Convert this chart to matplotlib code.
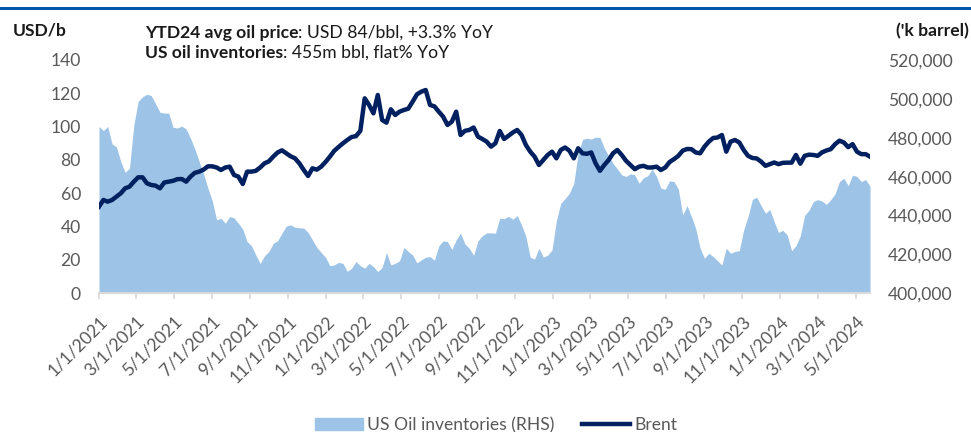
import matplotlib.pyplot as plt
import numpy as np
import pandas as pd
from matplotlib.patches import Patch, Rectangle
from matplotlib.lines import Line2D
from matplotlib.ticker import FuncFormatter

plt.rcParams["font.family"] = ["Lato", "DejaVu Sans"]
plt.rcParams["font.size"] = 12.6

# weekly readings, starting 1/1/2021
start = "2021-01-01"
brent = [52, 56, 55, 56, 58, 60, 63, 64, 67, 69.6,
         69.6, 66, 65, 64.6, 63, 66.5, 67, 67.5, 68.5, 68.6,
         67, 70, 72.3, 73, 74.2, 76.2, 76.2, 75.5, 74, 75.5,
         76, 71, 70, 65.6, 73, 73, 73.5, 75.5, 78, 79.2,
         82, 84.5, 85.8, 84, 82.2, 81, 78, 74, 70.4, 75,
         74.2, 76, 78.8, 82, 85.5, 87.8, 90, 92, 93.8, 94.3,
         97.5, 117, 113, 108, 119, 104, 102.4, 110.4, 107, 109,
         110, 110.8, 115, 119.4, 121, 122, 113, 112.2, 109, 106,
         101, 103, 109, 95, 97.5, 98, 99.5, 94, 92.6, 91,
         88, 90, 97.4, 92.6, 94.5, 96.5, 98, 95, 89, 85,
         82, 77, 80, 83, 85, 81, 86, 87.5, 85.5, 81,
         87, 84, 83.7, 84.5, 78, 73.5, 77, 80, 84, 86,
         83, 79.5, 77, 74.5, 76, 76.5, 75.5, 75.5, 76, 74,
         75.5, 78.8, 80.5, 82.5, 85.6, 86.6, 86.5, 84.5, 84, 88,
         91, 93.2, 93.5, 95, 85, 91, 92, 90.5, 86, 82.5,
         81.2, 80.9, 79, 76.5, 77.5, 78.5, 77.5, 78.3, 78.4, 78.4,
         83, 77.8, 82.5, 83.2, 83, 82.5, 84.6, 85.7, 86.5, 89.5,
         91.6, 90.5, 87.7, 89.5, 85, 83.5, 83.5, 82]

# US oil inventories, million barrels
inventories = [485.8, 483.7, 485.8, 476.8, 475.3, 467.8, 462.2, 464.4, 486.7, 498.7,
               501.1, 502.4, 501.7, 497.4, 493.1, 492.7, 492.7, 485.4, 485.0, 486.0,
               484.5, 479.8, 474.2, 467.8, 461.4, 454.1, 447.6, 437.8, 438.6, 436.0,
               439.5, 438.8, 436.0, 433.0, 426.6, 424.5, 419.7, 415.3, 419.3, 421.5,
               425.7, 427.0, 430.9, 434.6, 435.2, 433.9, 433.7, 433.5, 431.3, 427.5,
               423.6, 421.0, 418.5, 414.2, 414.6, 415.9, 415.4, 411.3, 412.9, 416.3,
               414.2, 412.9, 415.4, 413.7, 411.2, 413.3, 421.0, 414.6, 415.4, 416.7,
               423.6, 421.5, 419.7, 415.6, 417.2, 418.6, 418.9, 417.0, 424.3, 427.0,
               426.6, 422.5, 427.5, 430.9, 425.4, 423.2, 419.5, 427.0, 429.6, 431.1,
               431.1, 430.9, 438.6, 438.4, 439.5, 438.1, 440.0, 435.2, 429.2, 418.5,
               417.6, 423.2, 418.6, 419.6, 422.3, 437.3, 446.3, 448.7, 451.5, 456.6,
               472.1, 479.1, 479.8, 479.3, 480.3, 480.2, 474.7, 470.6, 466.9, 463.9,
               460.9, 460.1, 461.5, 460.9, 456.6, 459.4, 460.5, 463.8, 460.1, 454.1,
               453.5, 457.8, 457.5, 453.6, 440.3, 445.1, 439.5, 433.2, 423.2, 418.0,
               420.6, 418.9, 416.7, 414.6, 423.2, 420.6, 421.5, 422.0, 432.6, 439.5,
               448.3, 449.4, 445.1, 441.2, 443.1, 436.9, 431.3, 432.4, 430.0, 421.9,
               424.5, 429.6, 440.1, 442.7, 447.2, 448.2, 447.4, 445.7, 448.2, 451.3,
               457.5, 459.2, 455.4, 460.8, 460.1, 457.5, 458.5, 455.1]

dates = pd.date_range(start, periods=len(brent), freq="7D")
inv = np.array(inventories) * 1000
tick_dates = pd.date_range("2021-01-01", "2024-05-01", freq="2MS")

fill_color = "#9DC3E6"
line_color = "#002060"
grey = "#595959"
dark = "#1a1a1a"

fig = plt.figure(figsize=(9.71, 4.32), dpi=100)
ax1 = fig.add_axes([99 / 971, 1 - 293.3 / 432, 771 / 971, 233.3 / 432])
ax2 = ax1.twinx()
ax1.set_zorder(ax2.get_zorder() + 1)
ax1.patch.set_visible(False)

ax2.fill_between(dates, 400000, inv, color=fill_color, lw=0)
ax1.plot(dates, brent, color=line_color, lw=3.2, solid_joinstyle="round")

ax1.set_xlim(dates[0], dates[-1])
ax1.set_ylim(0, 140)
ax1.set_yticks(np.arange(0, 141, 20))
ax2.set_ylim(400000, 520000)
ax2.set_yticks(np.arange(400000, 520001, 20000))
ax2.yaxis.set_major_formatter(FuncFormatter(lambda v, p: f"{int(v):,}"))

ax1.set_xticks(tick_dates)
ax1.set_xticklabels([f"{d.month}/{d.day}/{d.year}" for d in tick_dates],
                    rotation=45, ha="right", rotation_mode="anchor")

for ax in (ax1, ax2):
    for s in ax.spines.values():
        s.set_visible(False)
ax1.spines["bottom"].set_visible(True)
ax1.spines["bottom"].set_color("#d9d9d9")
ax1.spines["bottom"].set_linewidth(1.5)
ax1.tick_params(axis="x", colors=grey, length=4, width=1.2, pad=10)
ax1.tick_params(axis="x", color="#d9d9d9")
ax1.tick_params(axis="y", colors=grey, length=0, pad=13)
ax2.tick_params(axis="y", colors=grey, length=0, pad=13)

# header texts
fig.text(13 / 971, 1 - 31 / 432, "USD/b", fontweight="bold",
         va="center", ha="left", color=dark)
fig.text(969 / 971, 1 - 31 / 432, "('k barrel)", fontweight="bold",
         va="center", ha="right", color=dark)

t1 = fig.text(145 / 971, 1 - 33 / 432, "YTD24 avg oil price", fontweight="bold",
              va="center", ha="left", color=dark)
ax1.annotate(": USD 84/bbl, +3.3% YoY", xy=(1, 0.5), xycoords=t1,
             va="center", ha="left", color=dark, annotation_clip=False)
t2 = fig.text(145 / 971, 1 - 53 / 432, "US oil inventories", fontweight="bold",
              va="center", ha="left", color=dark)
ax1.annotate(": 455m bbl, flat% YoY", xy=(1, 0.5), xycoords=t2,
             va="center", ha="left", color=dark, annotation_clip=False)

# top rule
fig.add_artist(Rectangle((0, 1 - 10 / 432), 1, 3 / 432, transform=fig.transFigure,
                         color="#0057A8", lw=0))

handles = [Patch(color=fill_color, label="US Oil inventories (RHS)"),
           Line2D([], [], color=line_color, lw=3.2, label="Brent")]
fig.legend(handles=handles, loc="center", bbox_to_anchor=(0.511, 1 - 425 / 432),
           ncol=2, frameon=False, handlelength=2.7, handletextpad=0.25,
           columnspacing=1.6, labelcolor=grey)

fig.savefig("out.png", dpi=100)
